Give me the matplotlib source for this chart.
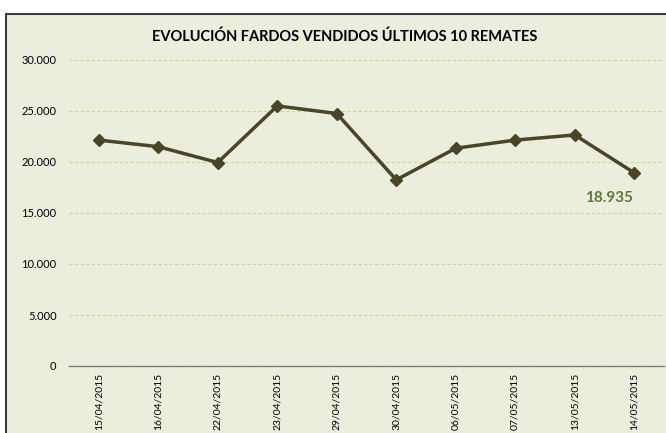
import matplotlib
matplotlib.use("Agg")
import matplotlib.pyplot as plt
from matplotlib.patches import Rectangle
from matplotlib.ticker import FuncFormatter

# Fardos vendidos en los últimos 10 remates
fechas = ["15/04/2015", "16/04/2015", "22/04/2015", "23/04/2015", "29/04/2015",
          "30/04/2015", "06/05/2015", "07/05/2015", "13/05/2015", "14/05/2015"]
fardos = [22150, 21500, 19950, 25500, 24750, 18250, 21350, 22150, 22650, 18935]

titulo = "EVOLUCIÓN FARDOS VENDIDOS ÚLTIMOS 10 REMATES"

plt.rcParams['font.family'] = ['Lato', 'DejaVu Sans']

fondo = '#EBEEDC'
linea = '#4A4428'

fig = plt.figure(figsize=(6.66, 4.33), dpi=100)
fig.patch.set_facecolor('white')

# marco del gráfico (recortado por la derecha y abajo)
fig.patches.append(Rectangle((6 / 666, -0.05), 1.1, 1 - 14 / 433 + 0.05,
                             transform=fig.transFigure, facecolor=fondo,
                             edgecolor='#3A3A3A', linewidth=1.5, zorder=-10))

ax = fig.add_axes([69 / 666, 1 - 366 / 433, 595 / 666, 306 / 433])
ax.set_facecolor('none')

x = list(range(len(fechas)))
ax.plot(x, fardos, color=linea, linewidth=2.5, marker='D', markersize=6,
        markerfacecolor=linea, markeredgecolor=linea, zorder=3)

ax.annotate(f"{fardos[-1]:,}".replace(",", "."), (x[-1], fardos[-1]),
            xytext=(-18, -18), textcoords='offset points', ha='center', va='center',
            color='#5E7A33', fontsize=11, fontweight='bold')

ax.set_xlim(-0.5, len(fechas) - 0.5)
ax.set_ylim(0, 30000)
ax.set_yticks(range(0, 30001, 5000))
ax.yaxis.set_major_formatter(FuncFormatter(lambda v, p: f"{int(v):,}".replace(",", ".")))
ax.set_xticks(x)
ax.set_xticklabels(fechas, rotation=90, fontsize=7.5)
ax.tick_params(axis='y', length=0, labelsize=8, pad=9)
ax.tick_params(axis='x', length=0, pad=5)

ax.grid(axis='y', color='#C8D99A', linestyle=(0, (3, 2)), linewidth=0.8)
for s in ['top', 'right', 'left']:
    ax.spines[s].set_visible(False)
ax.spines['bottom'].set_color('#808080')
ax.spines['bottom'].set_linewidth(1)

fig.text(345 / 666, 1 - 37 / 433, titulo, ha='center', va='center',
         fontsize=10.5, fontweight='bold', color='black')

fig.savefig("out.png", dpi=100, facecolor='white')
